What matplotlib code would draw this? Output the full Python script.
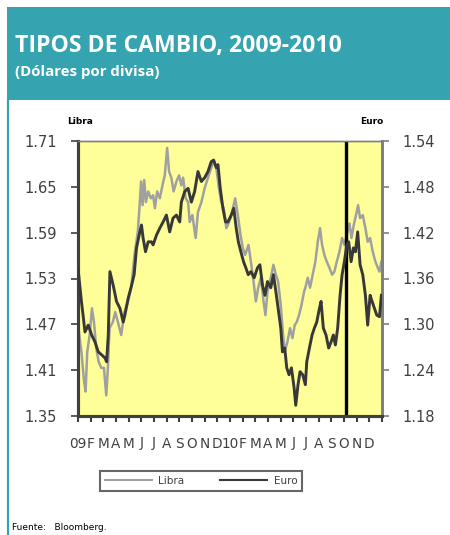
import matplotlib
matplotlib.use("Agg")
import matplotlib.pyplot as plt
from matplotlib.lines import Line2D
from matplotlib.patches import Rectangle

# months since jan 2009 (0 = ene-09, 24 = fin dic-10)
libra_x = [0, 0.27, 0.48, 0.6, 0.73, 0.92, 1.1, 1.26, 1.44, 1.63, 1.84, 2.05, 2.23, 2.36, 2.49,
           2.75, 2.94, 3.15, 3.41, 3.67, 3.94, 4.2, 4.46, 4.72, 4.85, 4.98, 5.1, 5.23, 5.36,
           5.54, 5.75, 5.93, 6.07, 6.25, 6.46, 6.67, 6.85, 7.04, 7.19, 7.37, 7.55, 7.77, 7.98,
           8.16, 8.3, 8.5, 8.69, 8.82, 9.03, 9.29, 9.47, 9.74, 10.0, 10.26, 10.52, 10.71,
           10.92, 11.13, 11.31, 11.5, 11.71, 11.83, 12.04, 12.23, 12.41, 12.62, 12.83, 13.01,
           13.2, 13.46, 13.65, 13.86, 14.04, 14.23, 14.44, 14.65, 14.8, 14.96, 15.22, 15.43,
           15.62, 15.8, 16.01, 16.17, 16.32, 16.53, 16.74, 16.93, 17.11, 17.27, 17.45, 17.64,
           17.85, 17.95, 18.14, 18.32, 18.53, 18.74, 18.93, 19.11, 19.27, 19.45, 19.64, 19.85,
           20.06, 20.24, 20.43, 20.64, 20.85, 21.03, 21.22, 21.43, 21.59, 21.77, 21.95, 22.11,
           22.27, 22.48, 22.69, 22.87, 23.06, 23.27, 23.48, 23.67, 23.8, 23.95]
libra = [1.470, 1.434, 1.395, 1.382, 1.434, 1.456, 1.491, 1.473, 1.439, 1.421, 1.413, 1.413,
         1.377, 1.413, 1.465, 1.473, 1.486, 1.473, 1.456, 1.486, 1.500, 1.518, 1.561, 1.591,
         1.622, 1.657, 1.626, 1.659, 1.630, 1.644, 1.635, 1.639, 1.622, 1.644, 1.635, 1.652,
         1.665, 1.701, 1.670, 1.662, 1.644, 1.657, 1.665, 1.652, 1.662, 1.635, 1.630, 1.604,
         1.613, 1.583, 1.617, 1.630, 1.648, 1.662, 1.675, 1.683, 1.675, 1.648, 1.630, 1.622,
         1.596, 1.600, 1.609, 1.622, 1.635, 1.613, 1.587, 1.570, 1.561, 1.574, 1.552, 1.526,
         1.500, 1.518, 1.531, 1.500, 1.482, 1.513, 1.531, 1.548, 1.535, 1.526, 1.495, 1.460,
         1.434, 1.447, 1.465, 1.452, 1.469, 1.473, 1.482, 1.495, 1.513, 1.518, 1.531, 1.518,
         1.535, 1.552, 1.578, 1.596, 1.574, 1.561, 1.552, 1.544, 1.535, 1.539, 1.552, 1.565,
         1.583, 1.574, 1.587, 1.602, 1.583, 1.600, 1.613, 1.626, 1.609, 1.613, 1.596, 1.578,
         1.583, 1.565, 1.552, 1.544, 1.539, 1.552]

euro_x = [0, 0.27, 0.4, 0.55, 0.81, 1.08, 1.34, 1.6, 1.87, 2.13, 2.26, 2.39, 2.52, 2.78, 3.04,
          3.31, 3.57, 3.7, 3.96, 4.23, 4.43, 4.62, 4.88, 5.01, 5.14, 5.33, 5.54, 5.8, 5.93,
          6.2, 6.46, 6.72, 6.98, 7.24, 7.5, 7.77, 8.03, 8.16, 8.43, 8.69, 8.95, 9.21, 9.47,
          9.74, 10.0, 10.26, 10.52, 10.71, 10.92, 11.05, 11.23, 11.44, 11.65, 11.83, 12.1,
          12.3, 12.49, 12.66, 12.86, 13.07, 13.25, 13.44, 13.65, 13.91, 14.17, 14.36, 14.57,
          14.76, 14.96, 15.22, 15.43, 15.62, 15.8, 16.01, 16.14, 16.32, 16.48, 16.66, 16.85,
          17.06, 17.19, 17.37, 17.53, 17.74, 17.95, 18.06, 18.27, 18.48, 18.66, 18.85, 19.06,
          19.19, 19.37, 19.58, 19.79, 19.98, 20.16, 20.32, 20.5, 20.69, 20.85, 21.03, 21.22,
          21.37, 21.56, 21.74, 21.9, 22.08, 22.27, 22.48, 22.69, 22.87, 23.06, 23.22, 23.4,
          23.59, 23.8, 23.95]
euro = [1.374, 1.330, 1.312, 1.290, 1.299, 1.286, 1.277, 1.264, 1.260, 1.256, 1.251, 1.286,
        1.369, 1.351, 1.330, 1.321, 1.303, 1.312, 1.334, 1.351, 1.365, 1.400, 1.421, 1.430,
        1.413, 1.395, 1.408, 1.408, 1.404, 1.417, 1.426, 1.434, 1.443, 1.421, 1.439, 1.443,
        1.434, 1.460, 1.474, 1.478, 1.460, 1.474, 1.500, 1.487, 1.492, 1.500, 1.513, 1.515,
        1.505, 1.509, 1.478, 1.452, 1.434, 1.434, 1.443, 1.452, 1.426, 1.408, 1.395, 1.382,
        1.374, 1.365, 1.369, 1.361, 1.374, 1.378, 1.351, 1.338, 1.356, 1.348, 1.365, 1.343,
        1.321, 1.295, 1.264, 1.269, 1.243, 1.234, 1.243, 1.217, 1.194, 1.221, 1.238, 1.234,
        1.221, 1.251, 1.269, 1.286, 1.295, 1.303, 1.321, 1.330, 1.295, 1.286, 1.269, 1.277,
        1.286, 1.273, 1.295, 1.338, 1.365, 1.382, 1.404, 1.408, 1.382, 1.400, 1.395, 1.421,
        1.378, 1.365, 1.338, 1.299, 1.338, 1.330, 1.321, 1.312, 1.310, 1.338]

month_labels = ["09", "F", "M", "A", "M", "J", "J", "A", "S", "O", "N", "D",
                "10", "F", "M", "A", "M", "J", "J", "A", "S", "O", "N", "D"]
libra_ticks = [1.35, 1.41, 1.47, 1.53, 1.59, 1.65, 1.71]
euro_ticks = [1.18, 1.24, 1.30, 1.36, 1.42, 1.48, 1.54]
marker_month = 21.17

teal = "#35A3B0"
txt = "#404040"

fig = plt.figure(figsize=(4.5, 5.35), dpi=100)
fig.patch.set_facecolor("white")

# header + left border
fig.patches.append(Rectangle((7 / 450, 1 - 100 / 535), 443 / 450, 93 / 535,
                             transform=fig.transFigure, facecolor=teal, edgecolor="none"))
fig.lines.append(Line2D([8 / 450, 8 / 450], [0, 1 - 100 / 535], transform=fig.transFigure,
                        color=teal, lw=1.6))
fig.text(15 / 450, 1 - 46 / 535, "TIPOS DE CAMBIO, 2009-2010", color="white",
         fontsize=16.6, fontweight="bold", family="Open Sans", va="center")
fig.text(15 / 450, 1 - 72 / 535, "(Dólares por divisa)", color="white",
         fontsize=10.8, fontweight="bold", family="Open Sans", va="center")

ax = fig.add_axes([78 / 450, 1 - 416 / 535, 304 / 450, 275 / 535])
ax.set_facecolor("#FFFF99")
ax.plot(libra_x, libra, color="#A0A0A0", lw=1.8, zorder=2)
ax.set_ylim(1.35, 1.71)
ax.set_xlim(0, 24)
ax.set_yticks(libra_ticks)
ax.set_yticklabels(["%.2f" % v for v in libra_ticks], fontsize=10.5, color=txt)
ax.set_xticks(range(25))
ax.set_xticklabels([])
ax.tick_params(axis="y", direction="out", length=5, width=1.2, color=txt, pad=10)
ax.tick_params(axis="x", direction="out", length=4, width=1.5, color=txt)

ax2 = ax.twinx()
ax2.plot(euro_x, euro, color="#383838", lw=2.1, zorder=3)
ax2.axvline(marker_month, color="black", lw=2.4, ymax=0.995)
ax2.set_ylim(1.18, 1.54)
ax2.set_yticks(euro_ticks)
ax2.set_yticklabels(["%.2f" % v for v in euro_ticks], fontsize=10.5, color=txt)
ax2.tick_params(axis="y", direction="out", length=5, width=1.2, color="#808080", pad=10)

for a in (ax, ax2):
    a.spines["left"].set_color(txt)
    a.spines["left"].set_linewidth(2.2)
    a.spines["bottom"].set_color(txt)
    a.spines["bottom"].set_linewidth(2.2)
    a.spines["top"].set_color("#808080")
    a.spines["top"].set_linewidth(1.0)
    a.spines["right"].set_color("#808080")
    a.spines["right"].set_linewidth(2.0)

for i, lab in enumerate(month_labels):
    ax.text(i, -0.1, lab, transform=ax.get_xaxis_transform(), ha="center", va="center",
            fontsize=9.8, color=txt)

fig.text(67 / 450, 1 - 122 / 535, "Libra", fontsize=6.5, fontweight="bold", va="center")
fig.text(360 / 450, 1 - 122 / 535, "Euro", fontsize=6.5, fontweight="bold", va="center")

# legend
handles = [Line2D([], [], color="#A0A0A0", lw=1.5), Line2D([], [], color="#3A3A3A", lw=1.5)]
leg = fig.legend(handles, ["Libra", "Euro"], loc="center", ncol=2,
                 bbox_to_anchor=(201 / 450, 1 - 481 / 535), frameon=True, fancybox=False,
                 fontsize=7.5, handlelength=4.5, columnspacing=3.5, borderpad=0.45,
                 handletextpad=0.6)
leg.get_frame().set_edgecolor("#404040")
leg.get_frame().set_linewidth(1.5)
for t in leg.get_texts():
    t.set_color(txt)

fig.text(12 / 450, 1 - 528 / 535, "Fuente:   Bloomberg.", fontsize=6.5, va="center")

fig.savefig("out.png", dpi=100)
